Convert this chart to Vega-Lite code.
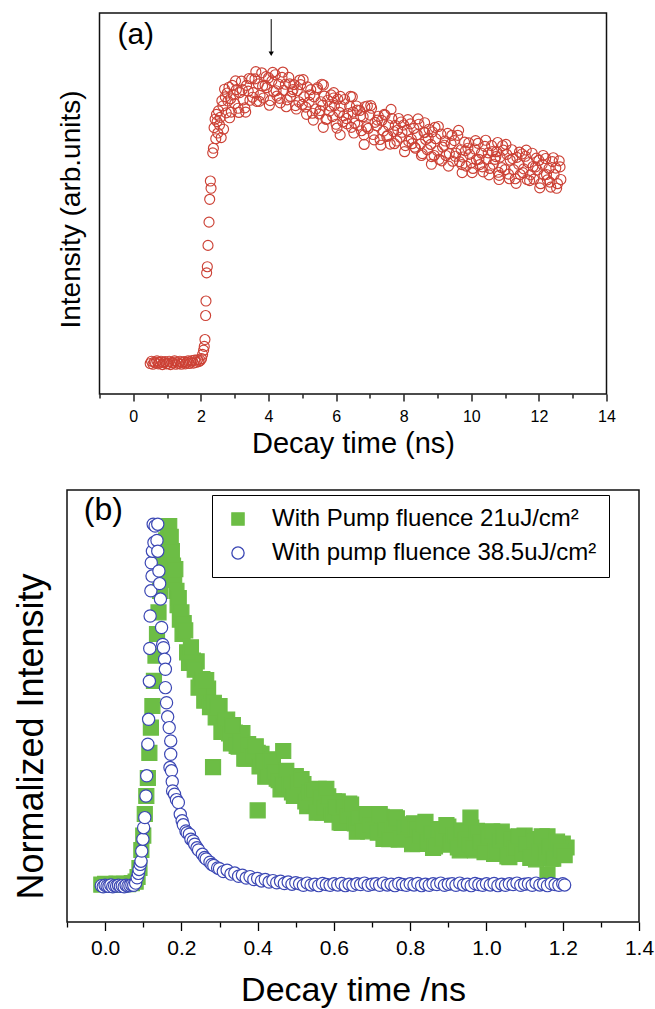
{
"$schema":"https://vega.github.io/schema/vega-lite/v6.json",
"padding":{"left":12,"top":12,"right":4,"bottom":0},
"bounds":"flush",
"center":true,
"spacing":96,
"resolve":{"scale":{"shape":"independent","fill":"independent","stroke":"independent","size":"independent"},"legend":{"shape":"independent","fill":"independent","stroke":"independent","size":"independent"}},
"config":{"font":"Liberation Sans","view":{"stroke":"#111","strokeWidth":1.5},
"axis":{"grid":false,"labelColor":"#000","titleColor":"#000","tickColor":"#000","titleFontWeight":"normal","labelFont":"Liberation Sans","titleFont":"Liberation Sans","tickWidth":1.3}},
"datasets":{
"a":[
{"x":0.50,"y":8.0},{"x":0.54,"y":8.6},{"x":0.58,"y":7.8},{"x":0.62,"y":8.4},{"x":0.66,"y":8.1},{"x":0.70,"y":8.7},{"x":0.74,"y":7.9},{"x":0.78,"y":8.3},{"x":0.82,"y":8.6},{"x":0.86,"y":7.7},{"x":0.90,"y":8.2},{"x":0.94,"y":8.5},{"x":0.98,"y":7.9},{"x":1.02,"y":8.0},{"x":1.06,"y":8.6},{"x":1.10,"y":7.7},{"x":1.14,"y":8.3},{"x":1.18,"y":8.1},{"x":1.22,"y":8.7},{"x":1.26,"y":7.8},{"x":1.30,"y":8.4},{"x":1.34,"y":8.0},{"x":1.38,"y":8.6},{"x":1.42,"y":7.8},{"x":1.46,"y":8.2},{"x":1.50,"y":8.5},{"x":1.54,"y":7.9},{"x":1.58,"y":8.3},{"x":1.62,"y":8.7},{"x":1.66,"y":8.0},{"x":1.70,"y":8.4},{"x":1.74,"y":8.8},{"x":1.78,"y":8.1},{"x":1.82,"y":8.9},{"x":1.86,"y":8.3},{"x":1.90,"y":9.0},{"x":1.94,"y":8.5},{"x":1.98,"y":8.8},{"x":2.02,"y":9.3},
{"x":2.05,"y":10.4},{"x":2.08,"y":11.5},{"x":2.10,"y":12.5},{"x":2.12,"y":14.3},{"x":2.14,"y":20.6},{"x":2.15,"y":24.4},{"x":2.17,"y":31.8},{"x":2.19,"y":33.4},{"x":2.21,"y":39.0},{"x":2.24,"y":45.1},{"x":2.26,"y":51.1},{"x":2.28,"y":55.9},{"x":2.30,"y":54.0},{"x":2.35,"y":63.3},{"x":2.37,"y":64.5},{"x":2.39,"y":69.9},{"x":2.42,"y":72.1},{"x":2.44,"y":67.0},{"x":2.46,"y":73.4},{"x":2.48,"y":71.5},{"x":2.50,"y":68.5},{"x":2.52,"y":74.3},{"x":2.55,"y":70.6},{"x":2.57,"y":72.6},{"x":2.60,"y":67.3},{"x":2.62,"y":77.0},{"x":2.65,"y":75.6},{"x":2.67,"y":69.5},{"x":2.70,"y":80.0},{"x":2.72,"y":78.0},{"x":2.75,"y":73.8},{"x":2.78,"y":79.0},{"x":2.80,"y":76.9},{"x":2.83,"y":80.5},{"x":2.85,"y":72.5},{"x":2.88,"y":77.5},{"x":2.90,"y":74.0},{"x":2.93,"y":81.0},{"x":2.96,"y":78.5},{"x":3.00,"y":76.2},
{"x":3.05,"y":79.9},{"x":3.10,"y":75.0},{"x":3.15,"y":79.1},{"x":3.20,"y":82.1},{"x":3.25,"y":77.2},{"x":3.30,"y":75.1},{"x":3.35,"y":81.0},{"x":3.40,"y":79.5},{"x":3.45,"y":77.1},{"x":3.50,"y":82.7},{"x":3.55,"y":79.1},{"x":3.60,"y":82.7},{"x":3.65,"y":76.8},{"x":3.70,"y":81.4},{"x":3.75,"y":78.4},{"x":3.80,"y":84.3},{"x":3.85,"y":77.7},{"x":3.90,"y":81.0},{"x":3.95,"y":80.4},{"x":4.00,"y":83.0},{"x":4.05,"y":77.0},{"x":4.10,"y":82.2},{"x":4.15,"y":79.4},{"x":4.20,"y":83.8},{"x":4.25,"y":78.2},{"x":4.30,"y":81.3},{"x":4.35,"y":76.4},{"x":4.40,"y":83.1},{"x":4.45,"y":79.7},{"x":4.50,"y":81.3},{"x":4.55,"y":77.2},{"x":4.60,"y":83.1},{"x":4.65,"y":78.1},{"x":4.70,"y":79.3},{"x":4.75,"y":81.2},{"x":4.80,"y":75.7},{"x":4.85,"y":79.6},{"x":4.90,"y":76.7},{"x":4.95,"y":81.2},{"x":5.00,"y":76.0},
{"x":5.05,"y":78.0},{"x":5.10,"y":75.3},{"x":5.15,"y":80.6},{"x":5.20,"y":76.6},{"x":5.25,"y":79.9},{"x":5.30,"y":73.7},{"x":5.35,"y":78.0},{"x":5.40,"y":74.8},{"x":5.45,"y":80.4},{"x":5.50,"y":73.5},{"x":5.55,"y":76.7},{"x":5.60,"y":75.8},{"x":5.65,"y":78.2},{"x":5.70,"y":72.1},{"x":5.75,"y":77.1},{"x":5.80,"y":74.2},{"x":5.85,"y":78.5},{"x":5.90,"y":72.8},{"x":5.95,"y":75.7},{"x":6.00,"y":70.8},{"x":6.05,"y":77.4},{"x":6.10,"y":73.9},{"x":6.15,"y":75.5},{"x":6.20,"y":71.4},{"x":6.25,"y":77.3},{"x":6.30,"y":72.3},{"x":6.35,"y":73.6},{"x":6.40,"y":75.5},{"x":6.45,"y":70.0},{"x":6.50,"y":74.0},{"x":6.55,"y":71.1},{"x":6.60,"y":75.6},{"x":6.65,"y":70.5},{"x":6.70,"y":74.4},{"x":6.75,"y":69.1},{"x":6.80,"y":72.8},{"x":6.85,"y":75.4},{"x":6.90,"y":70.1},{"x":6.95,"y":69.7},{"x":7.00,"y":73.2},
{"x":5.58,"y":81.3},{"x":5.93,"y":79.1},{"x":5.62,"y":70.0},{"x":6.12,"y":68.0},{"x":6.48,"y":78.0},{"x":6.83,"y":65.5},
{"x":7.05,"y":75.0},{"x":7.10,"y":68.1},{"x":7.15,"y":71.3},{"x":7.20,"y":70.4},{"x":7.25,"y":72.9},{"x":7.30,"y":66.8},{"x":7.35,"y":71.8},{"x":7.40,"y":69.0},{"x":7.45,"y":73.2},{"x":7.50,"y":67.6},{"x":7.55,"y":70.6},{"x":7.60,"y":65.6},{"x":7.65,"y":72.3},{"x":7.70,"y":68.9},{"x":7.75,"y":70.5},{"x":7.80,"y":66.4},{"x":7.85,"y":72.3},{"x":7.90,"y":67.4},{"x":7.95,"y":68.7},{"x":8.00,"y":70.6},{"x":8.05,"y":65.2},{"x":8.10,"y":69.2},{"x":8.15,"y":66.3},{"x":8.20,"y":70.9},{"x":8.25,"y":65.7},{"x":8.30,"y":69.7},{"x":8.35,"y":64.5},{"x":8.40,"y":68.1},{"x":8.45,"y":70.8},{"x":8.50,"y":65.6},{"x":8.55,"y":63.1},{"x":8.60,"y":68.7},{"x":8.65,"y":66.8},{"x":8.70,"y":64.1},{"x":8.75,"y":69.5},{"x":8.80,"y":65.5},{"x":8.85,"y":68.8},{"x":8.90,"y":62.6},{"x":8.95,"y":67.0},{"x":9.00,"y":63.8},{"x":9.05,"y":61.6},{"x":9.10,"y":68.2},{"x":9.15,"y":64.8},{"x":9.20,"y":65.3},{"x":9.25,"y":62.6},{"x":9.30,"y":68.4},{"x":9.35,"y":63.1},{"x":9.40,"y":65.7},{"x":9.45,"y":61.1},{"x":9.50,"y":66.5},{"x":9.55,"y":63.2},{"x":9.60,"y":67.9},{"x":9.65,"y":61.0},{"x":9.70,"y":64.1},{"x":9.75,"y":62.2},{"x":9.80,"y":66.1},{"x":9.85,"y":59.8},{"x":9.90,"y":64.5},{"x":9.95,"y":62.9},{"x":10.00,"y":60.7},
{"x":9.73,"y":58.1},{"x":8.62,"y":71.2},{"x":8.82,"y":60.3},
{"x":10.05,"y":59.2},{"x":10.10,"y":64.3},{"x":10.15,"y":61.5},{"x":10.20,"y":65.8},{"x":10.25,"y":60.2},{"x":10.30,"y":63.2},{"x":10.35,"y":58.3},{"x":10.40,"y":65.0},{"x":10.45,"y":61.6},{"x":10.50,"y":63.3},{"x":10.55,"y":59.2},{"x":10.60,"y":65.2},{"x":10.65,"y":60.3},{"x":10.70,"y":61.6},{"x":10.75,"y":63.6},{"x":10.80,"y":58.2},{"x":10.85,"y":62.2},{"x":10.90,"y":59.4},{"x":10.95,"y":64.0},{"x":11.00,"y":58.9},{"x":11.05,"y":62.9},{"x":11.10,"y":57.7},{"x":11.15,"y":61.4},{"x":11.20,"y":64.1},{"x":11.25,"y":58.9},{"x":11.30,"y":56.5},{"x":11.35,"y":62.1},{"x":11.40,"y":60.3},{"x":11.45,"y":57.6},{"x":11.50,"y":63.0},{"x":11.55,"y":59.1},{"x":11.60,"y":62.4},{"x":11.65,"y":56.3},{"x":11.70,"y":60.7},{"x":11.75,"y":57.5},{"x":11.80,"y":63.2},{"x":11.85,"y":56.4},{"x":11.90,"y":59.6},{"x":11.95,"y":58.8},{"x":12.00,"y":61.3},{"x":12.05,"y":55.2},{"x":12.10,"y":60.3},{"x":12.15,"y":57.5},{"x":12.20,"y":61.8},{"x":12.25,"y":56.2},{"x":12.30,"y":59.2},{"x":12.35,"y":54.3},{"x":12.40,"y":61.0},{"x":12.45,"y":57.6},{"x":12.50,"y":59.3},{"x":12.55,"y":55.2},{"x":12.60,"y":61.2},{"x":12.65,"y":56.3},
{"x":10.78,"y":66.0},{"x":10.82,"y":56.3},
{"x":3.025,"y":82.2},{"x":3.125,"y":73.9},{"x":3.225,"y":79.9},{"x":3.325,"y":74.0},{"x":3.425,"y":82.8},{"x":3.525,"y":77.9},{"x":3.625,"y":84.6},{"x":3.725,"y":76.8},{"x":3.825,"y":80.8},{"x":3.925,"y":83.3},{"x":4.025,"y":75.8},{"x":4.125,"y":84.4},{"x":4.225,"y":79.6},{"x":4.325,"y":77.6},{"x":4.425,"y":84.5},{"x":4.525,"y":75.4},{"x":4.625,"y":81.4},{"x":4.725,"y":79.9},{"x":4.825,"y":74.8},{"x":4.925,"y":82.4},
{"x":5.025,"y":82.5},{"x":5.125,"y":73.4},{"x":5.225,"y":78.5},{"x":5.325,"y":71.9},{"x":5.425,"y":80.0},{"x":5.525,"y":74.4},{"x":5.625,"y":81.1},{"x":5.725,"y":72.1},{"x":5.825,"y":75.6},{"x":5.925,"y":77.7},{"x":6.025,"y":69.8},{"x":6.125,"y":78.1},{"x":6.225,"y":73.0},{"x":6.325,"y":70.9},{"x":6.425,"y":78.1},{"x":6.525,"y":68.5},{"x":6.625,"y":74.5},{"x":6.725,"y":73.0},{"x":6.825,"y":68.0},{"x":6.925,"y":75.6},
{"x":7.025,"y":75.7},{"x":7.125,"y":66.7},{"x":7.225,"y":71.9},{"x":7.325,"y":65.3},{"x":7.425,"y":73.4},{"x":7.525,"y":67.9},{"x":7.625,"y":74.7},{"x":7.725,"y":65.7},{"x":7.825,"y":69.3},{"x":7.925,"y":71.4},{"x":8.025,"y":63.6},{"x":8.125,"y":72.0},{"x":8.225,"y":66.9},{"x":8.325,"y":64.8},{"x":8.425,"y":72.2},{"x":8.525,"y":62.6},{"x":8.625,"y":68.6},{"x":8.725,"y":67.2},{"x":8.825,"y":62.3},{"x":8.925,"y":70.0},
{"x":9.025,"y":70.2},{"x":9.125,"y":61.2},{"x":9.225,"y":66.4},{"x":9.325,"y":59.8},{"x":9.425,"y":67.9},{"x":9.525,"y":62.4},{"x":9.625,"y":69.2},{"x":9.725,"y":60.2},{"x":9.825,"y":63.8},{"x":9.925,"y":65.9},{"x":10.025,"y":58.1},{"x":10.125,"y":66.5},{"x":10.225,"y":61.6},{"x":10.325,"y":59.6},{"x":10.425,"y":66.6},{"x":10.525,"y":57.5},{"x":10.625,"y":63.6},{"x":10.725,"y":62.3},{"x":10.825,"y":57.4},{"x":10.925,"y":65.2},
{"x":11.025,"y":65.5},{"x":11.125,"y":56.5},{"x":11.225,"y":61.8},{"x":11.325,"y":55.3},{"x":11.425,"y":63.5},{"x":11.525,"y":58.1},{"x":11.625,"y":64.0},{"x":11.725,"y":56.0},{"x":11.825,"y":59.7},{"x":11.925,"y":61.9},{"x":12.025,"y":54.1},{"x":12.125,"y":62.6},{"x":12.225,"y":57.6},{"x":12.325,"y":55.6},{"x":12.425,"y":62.0},{"x":12.525,"y":54.0},{"x":12.625,"y":59.6}
],
"b":[
{"k":"g","x":-0.01,"y":0.004},{"k":"g","x":0.0,"y":0.006},{"k":"g","x":0.01,"y":0.003},{"k":"g","x":0.02,"y":0.005},{"k":"g","x":0.03,"y":0.007},{"k":"g","x":0.04,"y":0.004},{"k":"g","x":0.05,"y":0.006},{"k":"g","x":0.06,"y":0.005},{"k":"g","x":0.07,"y":0.008},{"k":"g","x":0.08,"y":0.012},{"k":"g","x":0.085,"y":0.025},
{"k":"g","x":0.09,"y":0.05},{"k":"g","x":0.095,"y":0.1},{"k":"g","x":0.10,"y":0.14},{"k":"g","x":0.104,"y":0.2},{"k":"g","x":0.108,"y":0.25},{"k":"g","x":0.112,"y":0.3},{"k":"g","x":0.116,"y":0.37},{"k":"g","x":0.12,"y":0.44},{"k":"g","x":0.124,"y":0.5},{"k":"g","x":0.128,"y":0.57},{"k":"g","x":0.132,"y":0.64},{"k":"g","x":0.136,"y":0.7},{"k":"g","x":0.14,"y":0.76},{"k":"g","x":0.144,"y":0.82},{"k":"g","x":0.148,"y":0.86},{"k":"g","x":0.152,"y":0.9},{"k":"g","x":0.156,"y":0.93},{"k":"g","x":0.16,"y":0.96},{"k":"g","x":0.164,"y":0.99},{"k":"g","x":0.168,"y":1.0},{"k":"g","x":0.172,"y":0.97},{"k":"g","x":0.175,"y":0.93},{"k":"g","x":0.178,"y":0.89},{"k":"g","x":0.181,"y":0.85},{"k":"g","x":0.184,"y":0.88},{"k":"g","x":0.187,"y":0.82},{"k":"g","x":0.19,"y":0.78},{"k":"g","x":0.193,"y":0.8},{"k":"g","x":0.196,"y":0.74},{"k":"g","x":0.2,"y":0.76},{"k":"g","x":0.203,"y":0.7},{"k":"g","x":0.206,"y":0.73},
{"k":"g","x":0.21,"y":0.71},{"k":"g","x":0.22,"y":0.62},{"k":"g","x":0.23,"y":0.626},{"k":"g","x":0.24,"y":0.624},{"k":"g","x":0.25,"y":0.558},{"k":"g","x":0.26,"y":0.515},{"k":"g","x":0.27,"y":0.548},{"k":"g","x":0.28,"y":0.507},{"k":"g","x":0.29,"y":0.468},{"k":"g","x":0.30,"y":0.50},{"k":"g","x":0.31,"y":0.447},{"k":"g","x":0.32,"y":0.462},{"k":"g","x":0.33,"y":0.396},{"k":"g","x":0.34,"y":0.426},{"k":"g","x":0.35,"y":0.387},{"k":"g","x":0.36,"y":0.425},{"k":"g","x":0.37,"y":0.354},{"k":"g","x":0.38,"y":0.373},{"k":"g","x":0.39,"y":0.355},{"k":"g","x":0.40,"y":0.37},{"k":"g","x":0.41,"y":0.367},{"k":"g","x":0.42,"y":0.304},{"k":"g","x":0.43,"y":0.332},{"k":"g","x":0.44,"y":0.352},{"k":"g","x":0.45,"y":0.298},{"k":"g","x":0.46,"y":0.268},{"k":"g","x":0.47,"y":0.314},{"k":"g","x":0.48,"y":0.286},{"k":"g","x":0.49,"y":0.26},{"k":"g","x":0.50,"y":0.305},{"k":"g","x":0.51,"y":0.26},{"k":"g","x":0.52,"y":0.283},{"k":"g","x":0.53,"y":0.222},{"k":"g","x":0.54,"y":0.258},{"k":"g","x":0.55,"y":0.224},{"k":"g","x":0.56,"y":0.27},{"k":"g","x":0.57,"y":0.204},{"k":"g","x":0.58,"y":0.228},{"k":"g","x":0.59,"y":0.215},{"k":"g","x":0.60,"y":0.235},{"k":"g","x":0.61,"y":0.235},{"k":"g","x":0.62,"y":0.175},{"k":"g","x":0.63,"y":0.206},{"k":"g","x":0.64,"y":0.229},{"k":"g","x":0.65,"y":0.178},{"k":"g","x":0.66,"y":0.151},{"k":"g","x":0.67,"y":0.20},{"k":"g","x":0.68,"y":0.175},{"k":"g","x":0.69,"y":0.152},{"k":"g","x":0.70,"y":0.20},{"k":"g","x":0.71,"y":0.16},{"k":"g","x":0.72,"y":0.187},{"k":"g","x":0.73,"y":0.131},{"k":"g","x":0.74,"y":0.171},{"k":"g","x":0.75,"y":0.142},{"k":"g","x":0.76,"y":0.191},{"k":"g","x":0.77,"y":0.129},{"k":"g","x":0.78,"y":0.156},{"k":"g","x":0.79,"y":0.147},{"k":"g","x":0.80,"y":0.17},{"k":"g","x":0.81,"y":0.174},{"k":"g","x":0.82,"y":0.117},{"k":"g","x":0.83,"y":0.152},{"k":"g","x":0.84,"y":0.178},{"k":"g","x":0.85,"y":0.131},{"k":"g","x":0.86,"y":0.106},{"k":"g","x":0.87,"y":0.158},{"k":"g","x":0.88,"y":0.135},{"k":"g","x":0.89,"y":0.115},{"k":"g","x":0.90,"y":0.165},{"k":"g","x":0.91,"y":0.126},{"k":"g","x":0.92,"y":0.154},{"k":"g","x":0.93,"y":0.099},{"k":"g","x":0.94,"y":0.14},{"k":"g","x":0.95,"y":0.112},{"k":"g","x":0.96,"y":0.162},{"k":"g","x":0.97,"y":0.099},{"k":"g","x":0.98,"y":0.127},{"k":"g","x":0.99,"y":0.118},{"k":"g","x":1.00,"y":0.142},{"k":"g","x":1.01,"y":0.146},{"k":"g","x":1.02,"y":0.089},{"k":"g","x":1.03,"y":0.124},{"k":"g","x":1.04,"y":0.151},{"k":"g","x":1.05,"y":0.104},{"k":"g","x":1.06,"y":0.08},{"k":"g","x":1.07,"y":0.132},{"k":"g","x":1.08,"y":0.109},{"k":"g","x":1.09,"y":0.089},{"k":"g","x":1.10,"y":0.14},{"k":"g","x":1.11,"y":0.101},{"k":"g","x":1.12,"y":0.13},{"k":"g","x":1.13,"y":0.074},{"k":"g","x":1.14,"y":0.116},{"k":"g","x":1.15,"y":0.088},{"k":"g","x":1.16,"y":0.138},{"k":"g","x":1.17,"y":0.076},{"k":"g","x":1.18,"y":0.103},{"k":"g","x":1.19,"y":0.094},{"k":"g","x":1.20,"y":0.118},{"k":"g","x":1.21,"y":0.107},
{"k":"g","x":0.215,"y":0.649},{"k":"g","x":0.225,"y":0.663},{"k":"g","x":0.235,"y":0.601},{"k":"g","x":0.245,"y":0.551},{"k":"g","x":0.255,"y":0.575},{"k":"g","x":0.265,"y":0.572},{"k":"g","x":0.275,"y":0.497},{"k":"g","x":0.285,"y":0.509},{"k":"g","x":0.295,"y":0.50},{"k":"g","x":0.305,"y":0.428},{"k":"g","x":0.315,"y":0.46},{"k":"g","x":0.325,"y":0.424},{"k":"g","x":0.335,"y":0.447},{"k":"g","x":0.345,"y":0.389},{"k":"g","x":0.355,"y":0.40},{"k":"g","x":0.365,"y":0.354},{"k":"g","x":0.375,"y":0.394},{"k":"g","x":0.385,"y":0.359},{"k":"g","x":0.395,"y":0.388},{"k":"g","x":0.405,"y":0.332},{"k":"g","x":0.415,"y":0.345},{"k":"g","x":0.425,"y":0.305},{"k":"g","x":0.435,"y":0.345},{"k":"g","x":0.445,"y":0.314},{"k":"g","x":0.455,"y":0.294},
{"k":"g","x":0.465,"y":0.282},{"k":"g","x":0.475,"y":0.32},{"k":"g","x":0.485,"y":0.282},{"k":"g","x":0.495,"y":0.25},{"k":"g","x":0.505,"y":0.287},{"k":"g","x":0.515,"y":0.297},{"k":"g","x":0.525,"y":0.235},{"k":"g","x":0.535,"y":0.26},{"k":"g","x":0.545,"y":0.264},{"k":"g","x":0.555,"y":0.204},{"k":"g","x":0.565,"y":0.246},{"k":"g","x":0.575,"y":0.218},{"k":"g","x":0.585,"y":0.249},{"k":"g","x":0.595,"y":0.198},{"k":"g","x":0.605,"y":0.217},{"k":"g","x":0.615,"y":0.177},{"k":"g","x":0.625,"y":0.222},{"k":"g","x":0.635,"y":0.192},{"k":"g","x":0.645,"y":0.226},{"k":"g","x":0.655,"y":0.174},{"k":"g","x":0.665,"y":0.191},{"k":"g","x":0.675,"y":0.155},{"k":"g","x":0.685,"y":0.199},{"k":"g","x":0.695,"y":0.172},{"k":"g","x":0.705,"y":0.157},
{"k":"g","x":0.715,"y":0.148},{"k":"g","x":0.725,"y":0.192},{"k":"g","x":0.735,"y":0.158},{"k":"g","x":0.745,"y":0.13},{"k":"g","x":0.755,"y":0.172},{"k":"g","x":0.765,"y":0.188},{"k":"g","x":0.775,"y":0.131},{"k":"g","x":0.785,"y":0.162},{"k":"g","x":0.795,"y":0.171},{"k":"g","x":0.805,"y":0.116},{"k":"g","x":0.815,"y":0.161},{"k":"g","x":0.825,"y":0.137},{"k":"g","x":0.835,"y":0.171},{"k":"g","x":0.845,"y":0.124},{"k":"g","x":0.855,"y":0.146},{"k":"g","x":0.865,"y":0.11},{"k":"g","x":0.875,"y":0.158},{"k":"g","x":0.885,"y":0.132},{"k":"g","x":0.895,"y":0.169},{"k":"g","x":0.905,"y":0.121},{"k":"g","x":0.915,"y":0.14},{"k":"g","x":0.925,"y":0.107},{"k":"g","x":0.935,"y":0.153},{"k":"g","x":0.945,"y":0.129},{"k":"g","x":0.955,"y":0.116},
{"k":"g","x":0.965,"y":0.108},{"k":"g","x":0.975,"y":0.153},{"k":"g","x":0.985,"y":0.12},{"k":"g","x":0.995,"y":0.094},{"k":"g","x":1.005,"y":0.137},{"k":"g","x":1.015,"y":0.152},{"k":"g","x":1.025,"y":0.096},{"k":"g","x":1.035,"y":0.127},{"k":"g","x":1.045,"y":0.137},{"k":"g","x":1.055,"y":0.082},{"k":"g","x":1.065,"y":0.128},{"k":"g","x":1.075,"y":0.103},{"k":"g","x":1.085,"y":0.138},{"k":"g","x":1.095,"y":0.091},{"k":"g","x":1.105,"y":0.114},{"k":"g","x":1.115,"y":0.078},{"k":"g","x":1.125,"y":0.126},{"k":"g","x":1.135,"y":0.10},{"k":"g","x":1.145,"y":0.138},{"k":"g","x":1.155,"y":0.09},{"k":"g","x":1.165,"y":0.11},{"k":"g","x":1.175,"y":0.076},{"k":"g","x":1.185,"y":0.123},{"k":"g","x":1.195,"y":0.099},{"k":"g","x":1.205,"y":0.086},
{"k":"g","x":0.283,"y":0.33},{"k":"g","x":0.467,"y":0.375},{"k":"g","x":0.40,"y":0.21},{"k":"g","x":0.58,"y":0.27},{"k":"g","x":0.958,"y":0.19},{"k":"g","x":1.16,"y":0.032},{"k":"g","x":0.72,"y":0.2},
{"k":"b","x":-0.010,"y":0.001},{"k":"b","x":-0.005,"y":-0.002},{"k":"b","x":0.000,"y":0.002},{"k":"b","x":0.005,"y":0.0},{"k":"b","x":0.010,"y":-0.001},{"k":"b","x":0.015,"y":0.003},{"k":"b","x":0.020,"y":-0.002},{"k":"b","x":0.025,"y":0.001},{"k":"b","x":0.030,"y":0.0},{"k":"b","x":0.035,"y":0.002},{"k":"b","x":0.040,"y":-0.001},{"k":"b","x":0.045,"y":0.001},{"k":"b","x":0.050,"y":-0.002},{"k":"b","x":0.055,"y":0.002},{"k":"b","x":0.060,"y":0.0},{"k":"b","x":0.065,"y":0.001},{"k":"b","x":0.070,"y":0.003},{"k":"b","x":0.075,"y":0.002},{"k":"b","x":0.080,"y":0.008},
{"k":"b","x":0.084,"y":0.023},{"k":"b","x":0.087,"y":0.035},{"k":"b","x":0.089,"y":0.046},{"k":"b","x":0.092,"y":0.06},{"k":"b","x":0.094,"y":0.069},{"k":"b","x":0.096,"y":0.097},{"k":"b","x":0.099,"y":0.13},{"k":"b","x":0.101,"y":0.162},{"k":"b","x":0.104,"y":0.19},{"k":"b","x":0.107,"y":0.25},{"k":"b","x":0.109,"y":0.306},{"k":"b","x":0.112,"y":0.394},{"k":"b","x":0.114,"y":0.463},{"k":"b","x":0.116,"y":0.569},{"k":"b","x":0.117,"y":0.66},{"k":"b","x":0.118,"y":0.75},{"k":"b","x":0.120,"y":0.82},{"k":"b","x":0.123,"y":0.861},{"k":"b","x":0.121,"y":0.898},{"k":"b","x":0.124,"y":0.93},{"k":"b","x":0.128,"y":0.954},{"k":"b","x":0.126,"y":1.005},{"k":"b","x":0.131,"y":1.0},
{"k":"b","x":0.138,"y":1.005},{"k":"b","x":0.136,"y":0.96},{"k":"b","x":0.138,"y":0.93},{"k":"b","x":0.141,"y":0.875},{"k":"b","x":0.143,"y":0.84},{"k":"b","x":0.145,"y":0.797},{"k":"b","x":0.148,"y":0.718},{"k":"b","x":0.151,"y":0.671},{"k":"b","x":0.153,"y":0.662},{"k":"b","x":0.156,"y":0.63},{"k":"b","x":0.158,"y":0.602},{"k":"b","x":0.158,"y":0.551},{"k":"b","x":0.161,"y":0.509},{"k":"b","x":0.164,"y":0.47},{"k":"b","x":0.168,"y":0.44},{"k":"b","x":0.172,"y":0.403},{"k":"b","x":0.172,"y":0.366},{"k":"b","x":0.170,"y":0.329},{"k":"b","x":0.174,"y":0.32},{"k":"b","x":0.176,"y":0.29},{"k":"b","x":0.177,"y":0.264},{"k":"b","x":0.182,"y":0.255},{"k":"b","x":0.187,"y":0.24},{"k":"b","x":0.192,"y":0.232},{"k":"b","x":0.197,"y":0.199},{"k":"b","x":0.202,"y":0.181},{"k":"b","x":0.205,"y":0.17},{"k":"b","x":0.212,"y":0.153},{"k":"b","x":0.215,"y":0.148},{"k":"b","x":0.221,"y":0.144},{"k":"b","x":0.225,"y":0.13},{"k":"b","x":0.231,"y":0.125},{"k":"b","x":0.235,"y":0.116},{"k":"b","x":0.241,"y":0.106},{"k":"b","x":0.245,"y":0.1},{"k":"b","x":0.255,"y":0.088},{"k":"b","x":0.261,"y":0.079},{"k":"b","x":0.265,"y":0.075},{"k":"b","x":0.275,"y":0.066},{"k":"b","x":0.280,"y":0.06},{"k":"b","x":0.285,"y":0.057},{"k":"b","x":0.295,"y":0.05},
{"k":"b","x":0.30,"y":0.048},{"k":"b","x":0.31,"y":0.040},{"k":"b","x":0.32,"y":0.044},{"k":"b","x":0.33,"y":0.033},{"k":"b","x":0.34,"y":0.036},{"k":"b","x":0.35,"y":0.027},{"k":"b","x":0.36,"y":0.030},{"k":"b","x":0.37,"y":0.022},{"k":"b","x":0.38,"y":0.026},{"k":"b","x":0.39,"y":0.018},{"k":"b","x":0.40,"y":0.021},{"k":"b","x":0.41,"y":0.014},{"k":"b","x":0.42,"y":0.018},{"k":"b","x":0.43,"y":0.011},{"k":"b","x":0.44,"y":0.015},{"k":"b","x":0.45,"y":0.009},{"k":"b","x":0.46,"y":0.013},{"k":"b","x":0.47,"y":0.007},{"k":"b","x":0.48,"y":0.011},{"k":"b","x":0.49,"y":0.005},{"k":"b","x":0.50,"y":0.009},
{"k":"b","x":0.51,"y":0.006},{"k":"b","x":0.52,"y":0.002},{"k":"b","x":0.53,"y":0.008},{"k":"b","x":0.54,"y":0.003},{"k":"b","x":0.55,"y":0.005},{"k":"b","x":0.56,"y":0.001},{"k":"b","x":0.57,"y":0.007},{"k":"b","x":0.58,"y":0.004},{"k":"b","x":0.59,"y":0.002},{"k":"b","x":0.60,"y":0.006},
{"k":"b","x":0.61,"y":0.003},{"k":"b","x":0.62,"y":0.007},{"k":"b","x":0.63,"y":0.001},{"k":"b","x":0.64,"y":0.005},{"k":"b","x":0.65,"y":0.002},{"k":"b","x":0.66,"y":0.006},{"k":"b","x":0.67,"y":0.004},{"k":"b","x":0.68,"y":0.008},{"k":"b","x":0.69,"y":0.002},{"k":"b","x":0.70,"y":0.005},
{"k":"b","x":0.71,"y":0.006},{"k":"b","x":0.72,"y":0.002},{"k":"b","x":0.73,"y":0.008},{"k":"b","x":0.74,"y":0.003},{"k":"b","x":0.75,"y":0.005},{"k":"b","x":0.76,"y":0.001},{"k":"b","x":0.77,"y":0.007},{"k":"b","x":0.78,"y":0.004},{"k":"b","x":0.79,"y":0.002},{"k":"b","x":0.80,"y":0.006},
{"k":"b","x":0.81,"y":0.003},{"k":"b","x":0.82,"y":0.007},{"k":"b","x":0.83,"y":0.001},{"k":"b","x":0.84,"y":0.005},{"k":"b","x":0.85,"y":0.002},{"k":"b","x":0.86,"y":0.006},{"k":"b","x":0.87,"y":0.004},{"k":"b","x":0.88,"y":0.008},{"k":"b","x":0.89,"y":0.002},{"k":"b","x":0.90,"y":0.005},
{"k":"b","x":0.91,"y":0.006},{"k":"b","x":0.92,"y":0.002},{"k":"b","x":0.93,"y":0.008},{"k":"b","x":0.94,"y":0.003},{"k":"b","x":0.95,"y":0.005},{"k":"b","x":0.96,"y":0.001},{"k":"b","x":0.97,"y":0.007},{"k":"b","x":0.98,"y":0.004},{"k":"b","x":0.99,"y":0.002},{"k":"b","x":1.00,"y":0.006},
{"k":"b","x":1.01,"y":0.003},{"k":"b","x":1.02,"y":0.007},{"k":"b","x":1.03,"y":0.001},{"k":"b","x":1.04,"y":0.005},{"k":"b","x":1.05,"y":0.002},{"k":"b","x":1.06,"y":0.006},{"k":"b","x":1.07,"y":0.004},{"k":"b","x":1.08,"y":0.008},{"k":"b","x":1.09,"y":0.002},{"k":"b","x":1.10,"y":0.005},
{"k":"b","x":1.11,"y":0.006},{"k":"b","x":1.12,"y":0.002},{"k":"b","x":1.13,"y":0.008},{"k":"b","x":1.14,"y":0.003},{"k":"b","x":1.15,"y":0.005},{"k":"b","x":1.16,"y":0.001},{"k":"b","x":1.17,"y":0.007},{"k":"b","x":1.18,"y":0.004},{"k":"b","x":1.19,"y":0.002},{"k":"b","x":1.20,"y":0.006},{"k":"b","x":1.205,"y":0.003}
],
"names":[{"k":"g","name":"With Pump fluence 21uJ/cm²"},{"k":"b","name":"With pump fluence 38.5uJ/cm²"}],
"tickA":[{"x":-1},{"x":1},{"x":3},{"x":5},{"x":7},{"x":9},{"x":11},{"x":13}],
"tickB":[{"x":-0.1},{"x":0.1},{"x":0.3},{"x":0.5},{"x":0.7},{"x":0.9},{"x":1.1},{"x":1.3}]
},
"vconcat":[
{"width":507,"height":381,
"resolve":{"axis":{"x":"independent"}},
"layer":[
{"data":{"name":"a"},
"mark":{"type":"point","filled":false,"stroke":"#cc4135","strokeWidth":1.15,"size":100,"opacity":1},
"encoding":{
"x":{"field":"x","type":"quantitative","title":"Decay time (ns)","scale":{"domain":[-1,14],"nice":false,"zero":false},
"axis":{"orient":"bottom","values":[0,2,4,6,8,10,12,14],"format":"d","tickSize":7,"labelFontSize":16,"titleFontSize":29,"labelPadding":7,"titlePadding":5,"domain":false,"labelFlush":false,"labelOverlap":false}},
"y":{"field":"y","type":"quantitative","title":"Intensity (arb.units)","scale":{"domain":[0,100],"nice":false,"zero":false},
"axis":{"ticks":false,"labels":false,"domain":false,"titleFontSize":28,"titlePadding":14,"titleY":196,"minExtent":0}}}},
{"data":{"name":"tickA"},"mark":{"type":"rule","opacity":0},
"encoding":{"x":{"field":"x","type":"quantitative","title":null,"axis":{"orient":"bottom","values":[-1,1,3,5,7,9,11,13],"labels":false,"tickSize":4,"domain":false,"title":null}}}},
{"data":{"values":[{"x":4.08,"y":98.4,"y2":89.8}]},"mark":{"type":"rule","color":"#000","strokeWidth":1},
"encoding":{"x":{"field":"x","type":"quantitative","axis":null},"y":{"field":"y","type":"quantitative"},"y2":{"field":"y2"}}},
{"data":{"values":[{"x":4.08,"y":89.3}]},"mark":{"type":"point","shape":"triangle-down","filled":true,"color":"#000","size":28,"opacity":1},
"encoding":{"x":{"field":"x","type":"quantitative","axis":null},"y":{"field":"y","type":"quantitative"}}},
{"data":{"values":[{"x":-0.47,"y":94.1,"label":"(a)"}]},"mark":{"type":"text","align":"left","baseline":"middle","fontSize":30,"font":"Liberation Sans","color":"#000"},
"encoding":{"x":{"field":"x","type":"quantitative","axis":null},"y":{"field":"y","type":"quantitative"},"text":{"field":"label"}}}
]},
{"width":572,"height":432,
"resolve":{"axis":{"x":"independent"}},
"layer":[
{"data":{"name":"b"},
"transform":[{"lookup":"k","from":{"data":{"name":"names"},"key":"k","fields":["name"]}}],
"mark":{"type":"point","filled":true,"opacity":1,"strokeWidth":1.2},
"encoding":{
"x":{"field":"x","type":"quantitative","title":"Decay time /ns","scale":{"domain":[-0.1,1.4],"nice":false,"zero":false},
"axis":{"orient":"bottom","values":[0,0.2,0.4,0.6,0.8,1.0,1.2,1.4],"format":".1f","tickSize":8.5,"labelFontSize":21,"titleFontSize":34,"labelPadding":7,"titlePadding":15,"domain":false,"labelFlush":false,"labelOverlap":false}},
"y":{"field":"y","type":"quantitative","title":"Normalized Intensity","scale":{"domain":[-0.1,1.1],"nice":false,"zero":false},
"axis":{"ticks":false,"labels":false,"domain":false,"titleFontSize":36,"titlePadding":17,"titleY":246,"minExtent":0}},
"shape":{"field":"name","type":"nominal","title":null,"scale":{"domain":["With Pump fluence 21uJ/cm²","With pump fluence 38.5uJ/cm²"],"range":["square","circle"]},
"legend":{"orient":"none","legendX":145,"legendY":5,"labelFontSize":24,"labelColor":"#000","padding":12,"strokeColor":"#000","symbolOffset":2,"labelOffset":22,"rowPadding":10,"symbolSize":150,"symbolStrokeWidth":1.3,"labelLimit":500}},
"fill":{"field":"name","type":"nominal","title":null,"scale":{"domain":["With Pump fluence 21uJ/cm²","With pump fluence 38.5uJ/cm²"],"range":["#6cbd45","#ffffff"]},
"legend":{"orient":"none","legendX":145,"legendY":5,"labelFontSize":24,"labelColor":"#000","padding":12,"strokeColor":"#000","symbolOffset":2,"labelOffset":22,"rowPadding":10,"symbolSize":150,"symbolStrokeWidth":1.3,"labelLimit":500}},
"stroke":{"field":"name","type":"nominal","title":null,"scale":{"domain":["With Pump fluence 21uJ/cm²","With pump fluence 38.5uJ/cm²"],"range":["#6cbd45","#3b47b4"]},
"legend":{"orient":"none","legendX":145,"legendY":5,"labelFontSize":24,"labelColor":"#000","padding":12,"strokeColor":"#000","symbolOffset":2,"labelOffset":22,"rowPadding":10,"symbolSize":150,"symbolStrokeWidth":1.3,"labelLimit":500}},
"size":{"field":"k","type":"nominal","scale":{"domain":["g","b"],"range":[225,150]},"legend":null}}},
{"data":{"name":"tickB"},"mark":{"type":"rule","opacity":0},
"encoding":{"x":{"field":"x","type":"quantitative","title":null,"axis":{"orient":"bottom","values":[-0.1,0.1,0.3,0.5,0.7,0.9,1.1,1.3],"labels":false,"tickSize":5,"domain":false,"title":null}}}},
{"data":{"values":[{"x":-0.056,"y":1.044,"label":"(b)"}]},"mark":{"type":"text","align":"left","baseline":"middle","fontSize":32,"font":"Liberation Sans","color":"#000"},
"encoding":{"x":{"field":"x","type":"quantitative","axis":null},"y":{"field":"y","type":"quantitative"},"text":{"field":"label"}}}
]}
]
}
